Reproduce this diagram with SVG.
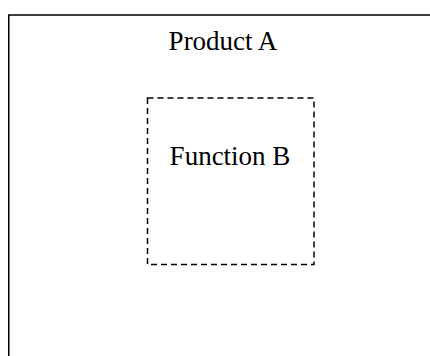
<svg xmlns="http://www.w3.org/2000/svg" width="430" height="356" viewBox="0 0 430 356">
  <style>
    .frame { fill: none; stroke: #000; stroke-width: 1.5; }
    .dashed { stroke-dasharray: 6 4; }
    .label { font-family: "Liberation Serif", "Times New Roman", serif; font-size: 27px; fill: #000; text-anchor: middle; }
  </style>
  <rect width="430" height="356" fill="#fff"/>
  <!-- outer product boundary, running off the right and bottom edges -->
  <g id="product-a">
    <rect class="frame" x="8.75" y="15" width="440" height="360"/>
    <text class="label" x="223" y="50">Product A</text>
  </g>
  <!-- inner function boundary -->
  <g id="function-b">
    <rect class="frame dashed" x="147.5" y="98" width="166.5" height="166.5"/>
    <text class="label" x="230" y="165">Function B</text>
  </g>
  <g id="connectors"/>
</svg>
